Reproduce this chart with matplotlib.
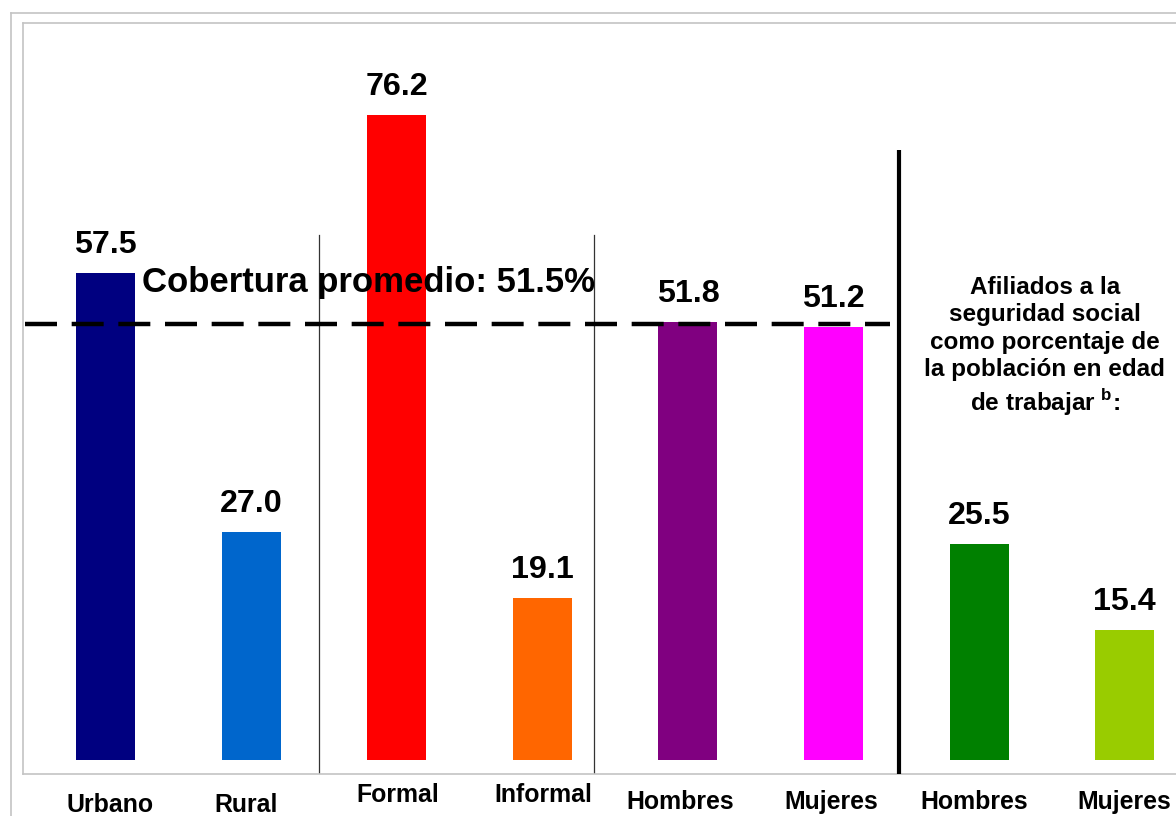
import matplotlib
matplotlib.use("Agg")
import matplotlib.pyplot as plt
from matplotlib.lines import Line2D

plt.rcParams['font.family'] = ['Liberation Sans', 'DejaVu Sans']
plt.rcParams['font.weight'] = 'bold'
plt.rcParams['mathtext.fontset'] = 'custom'
plt.rcParams['mathtext.bf'] = 'Liberation Sans:bold'
plt.rcParams['mathtext.rm'] = 'Liberation Sans:bold'

# data
categories = ["Urbano", "Rural", "Formal", "Informal",
              "Hombres", "Mujeres", "Hombres", "Mujeres"]
coverage = [57.5, 27.0, 76.2, 19.1, 51.8, 51.2, 25.5, 15.4]
average = 51.5
avg_label = "Cobertura promedio: 51.5%"
side_note = ("Afiliados a la\nseguridad social\ncomo porcentaje de\n"
             "la población en edad\nde trabajar $^{\\mathbf{b}}$:")

# styling
colors = ["#000080", "#0066CC", "#FF0000", "#FF6600",
          "#800080", "#FF00FF", "#008000", "#99CC00"]
label_y = [-6.1, -6.1, -5.0, -5.0, -5.8, -5.8, -5.8, -5.8]
label_dx = [5, -5, 1, 1, -8, -2, -5, 0]   # pixels

W, H = 1176, 816
fig = plt.figure(figsize=(W / 100, H / 100), dpi=100)
ax = fig.add_axes([22.5 / W, 42 / H, (1208 - 22.5) / W, (793 - 42) / H])

x = list(range(len(coverage)))
ax.bar(x, coverage, width=0.405, color=colors, zorder=2)

for xi, v in zip(x, coverage):
    ax.annotate("%.1f" % v, (xi, v), xytext=(0, 14.4),
                textcoords="offset points", ha="center", va="baseline",
                fontsize=23.2, fontweight="bold", zorder=4)

for xi, name, ly, dx in zip(x, categories, label_y, label_dx):
    ax.annotate(name, (xi, ly), xytext=(dx * 0.72, 0),
                textcoords="offset points", ha="center", va="baseline",
                fontsize=17.9, fontweight="bold", annotation_clip=False)

# dividers between groups
ax.plot([1.463, 1.463], [-1.65, 62.0], color="#333333", lw=0.9, zorder=1)
ax.plot([3.358, 3.358], [-1.65, 62.0], color="#333333", lw=0.9, zorder=1)
ax.plot([5.453, 5.453], [-1.65, 72.1], color="black", lw=3.0, zorder=3,
        solid_capstyle="butt")

# average line
ax.plot([-0.553, 5.39], [average, average], color="black", lw=3.2,
        dashes=(7.2, 3.3), zorder=3)
ax.text(0.249, 55.3, avg_label, ha="left", va="baseline", fontsize=25,
        fontweight="bold", zorder=5)

ax.text(6.452, 48.8, side_note, ha="center", va="center", fontsize=17.5,
        fontweight="bold", linespacing=1.245)

ax.set_xlim(-0.570, 7.572)
ax.set_ylim(-1.65, 87.1)
ax.set_xticks([])
ax.set_yticks([])
for side in ("left", "top", "bottom"):
    ax.spines[side].set_color("#c4c4c4")
    ax.spines[side].set_linewidth(1.2)
ax.spines["right"].set_visible(False)

# outer frame
fig.add_artist(Line2D([11 / W, 11 / W], [0, (H - 13) / H], color="#c4c4c4",
                      lw=1.2, transform=fig.transFigure))
fig.add_artist(Line2D([11 / W, 1], [(H - 13) / H, (H - 13) / H],
                      color="#c4c4c4", lw=1.2, transform=fig.transFigure))

fig.savefig("out.png", dpi=100)
